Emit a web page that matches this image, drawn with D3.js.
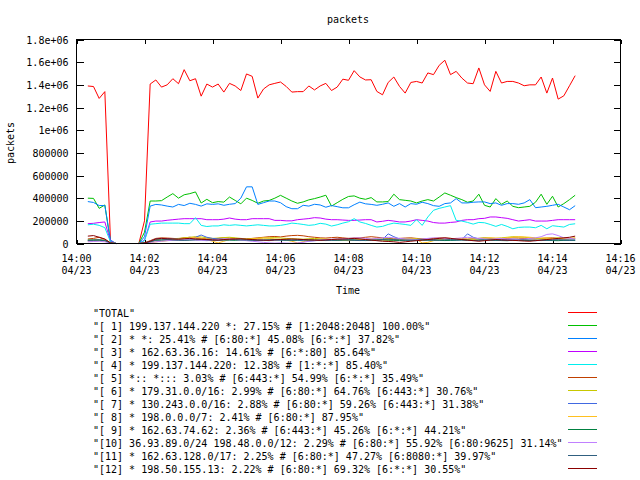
<!DOCTYPE html>
<html><head><meta charset="utf-8">
<script src="https://cdn.jsdelivr.net/npm/d3@7"></script>
<style>
body{margin:0;background:#fff}
svg{display:block}
text{font-family:"DejaVu Sans Mono","Liberation Mono",monospace;font-size:10px;fill:#000;white-space:pre}
</style>
</head><body>
<svg id="chart" width="640" height="480"></svg>
<script>
// ---- data (packets, in thousands) ----
const sampleStart = "2013-04-23T14:00:20Z";
const sampleStepSeconds = 10;
const yTickValues = [0, 200000, 400000, 600000, 800000, 1000000, 1200000, 1400000, 1600000, 1800000];
const yTickLabels = ["0","200000","400000","600000","800000","1e+06","1.2e+06","1.4e+06","1.6e+06","1.8e+06"];
const xTickMinutes = ["14:00","14:02","14:04","14:06","14:08","14:10","14:12","14:14","14:16"];
const xTickDate = "04/23";

const seriesLabels = [
  "\"TOTAL\"",
  "\"[ 1] 199.137.144.220 *: 27.15% # [1:2048:2048] 100.00%\"",
  "\"[ 2] * *: 25.41% # [6:80:*] 45.08% [6:*:*] 37.82%\"",
  "\"[ 3] * 162.63.36.16: 14.61% # [6:*:80] 85.64%\"",
  "\"[ 4] * 199.137.144.220: 12.38% # [1:*:*] 85.40%\"",
  "\"[ 5] *:: *::: 3.03% # [6:443:*] 54.99% [6:*:*] 35.49%\"",
  "\"[ 6] * 179.31.0.0/16: 2.99% # [6:80:*] 64.76% [6:443:*] 30.76%\"",
  "\"[ 7] * 130.243.0.0/16: 2.88% # [6:80:*] 59.26% [6:443:*] 31.38%\"",
  "\"[ 8] * 198.0.0.0/7: 2.41% # [6:80:*] 87.95%\"",
  "\"[ 9] * 162.63.74.62: 2.36% # [6:443:*] 45.26% [6:*:*] 44.21%\"",
  "\"[10] 36.93.89.0/24 198.48.0.0/12: 2.29% # [6:80:*] 55.92% [6:80:9625] 31.14%\"",
  "\"[11] * 162.63.128.0/17: 2.25% # [6:80:*] 47.27% [6:8080:*] 39.97%\"",
  "\"[12] * 198.50.155.13: 2.22% # [6:80:*] 69.32% [6:*:*] 30.55%\""
];
const seriesColors = ["#ff0000","#00c000","#0080ff","#c000ff","#00eeee","#c04000","#c8c800","#4169e1","#ffc020","#008040","#c080ff","#306080","#8b0000"];

const total = [
 1390,1385,1280,1340,20,0,0,0,0,0,
 200,1407,1443,1380,1400,1454,1410,1534,1436,1454,
 1300,1407,1380,1407,1336,1413,1390,1350,1496,1475,
 1283,1363,1400,1413,1425,1386,1336,1340,1340,1390,
 1355,1390,1413,1350,1380,1450,1440,1525,1470,1443,
 1445,1342,1312,1421,1469,1386,1327,1421,1430,1416,
 1505,1490,1572,1617,1490,1519,1460,1416,1410,1549,
 1400,1342,1519,1416,1430,1430,1416,1392,1400,1400,
 1469,1327,1460,1274,1303,1392,1481];
const s1 = [
 400,398,310,340,10,0,0,0,0,0,
 100,375,375,378,410,440,400,430,440,455,
 357,390,360,370,365,410,380,350,400,380,
 355,375,380,400,425,400,375,355,367,385,
 396,410,426,330,360,390,415,420,400,390,
 405,367,367,370,435,387,381,375,358,375,
 387,375,410,446,426,405,387,364,375,435,
 337,322,396,346,375,328,316,322,328,364,
 435,346,417,322,352,387,426];
const s2 = [
 370,362,335,335,30,0,0,0,0,0,
 60,330,345,340,330,322,345,335,355,345,
 330,350,345,350,337,346,352,400,500,500,
 345,360,375,375,360,325,307,307,337,330,
 346,340,320,335,325,315,315,342,365,350,
 345,337,346,358,328,352,322,352,346,364,
 352,334,328,352,358,396,358,358,364,367,
 367,352,358,337,352,352,346,358,387,316,
 322,328,337,346,322,298,334];
const s3 = [
 175,178,185,190,20,0,0,0,0,0,
 30,190,198,198,205,210,215,219,219,219,
 219,210,210,210,215,225,215,210,210,219,
 219,219,219,204,204,200,200,210,215,220,
 228,225,215,210,210,207,204,204,207,210,
 210,190,196,204,198,190,190,198,210,204,
 198,185,180,180,186,190,204,210,210,219,
 222,234,234,228,222,210,198,204,210,198,
 198,198,204,210,210,210,210];
const s4 = [
 165,170,160,140,15,0,0,0,0,0,
 25,170,175,180,180,180,180,175,175,228,
 160,150,155,155,165,160,165,160,155,160,
 165,160,155,155,160,168,180,175,168,160,
 165,178,171,154,165,180,192,219,190,177,
 160,145,151,168,180,174,168,160,210,160,
 234,293,310,322,334,204,198,186,171,186,
 183,168,151,168,151,130,142,145,145,139,
 160,130,157,151,145,168,174];
const s5 = [
 40,45,55,35,5,0,0,0,0,0,
 5,25,45,50,48,45,42,50,55,48,
 45,40,42,45,50,48,45,42,40,45,
 50,55,60,62,58,65,70,72,68,60,
 55,50,48,52,55,50,45,48,50,55,
 60,55,50,45,42,45,48,50,45,42,
 40,45,50,48,45,42,40,38,42,45,
 48,45,42,40,45,50,48,45,42,40,
 45,48,50,45,40,42,45];
const s6 = [
 30,32,35,28,5,0,0,0,0,0,
 5,20,35,40,38,42,45,50,55,60,
 58,50,45,48,52,55,50,45,40,42,
 45,48,50,52,48,45,42,40,38,42,
 45,40,38,35,40,42,45,40,38,35,
 38,40,42,40,38,35,40,45,42,38,
 35,38,40,42,45,40,38,35,40,45,
 50,48,45,50,55,60,58,55,50,45,
 42,40,45,50,48,45,48];
const s7 = [
 25,28,30,25,5,0,0,0,0,0,
 5,20,40,45,42,40,38,42,48,55,
 75,55,45,40,38,35,38,40,35,32,
 30,28,25,30,32,35,30,28,25,22,
 25,28,30,32,30,28,32,35,38,35,
 32,30,35,85,60,40,35,32,30,35,
 38,35,32,30,28,30,35,85,55,40,
 35,30,28,32,35,38,35,30,28,25,
 28,30,32,35,30,28,30];
const s8 = [
 20,22,25,20,3,0,0,0,0,0,
 3,10,15,20,25,30,35,45,50,55,
 45,35,20,5,20,35,40,38,35,40,
 45,50,45,40,35,30,20,5,15,30,
 35,40,38,35,30,28,25,30,35,38,
 40,35,30,28,25,30,35,40,38,5,
 10,25,35,40,42,45,40,38,35,40,
 45,50,48,45,50,55,60,58,55,50,
 48,50,45,40,42,45,48];
const s9 = [
 30,30,28,25,3,0,0,0,0,0,
 3,15,28,30,32,30,28,30,32,35,
 32,30,28,30,32,30,28,30,32,30,
 28,30,32,35,32,30,28,30,32,30,
 28,30,32,30,28,30,32,30,28,26,
 28,30,32,30,28,26,28,30,32,30,
 28,30,28,26,28,30,32,30,28,30,
 32,30,28,26,25,28,30,28,26,28,
 30,28,26,25,28,30,28];
const s10 = [
 15,18,20,15,3,0,0,0,0,0,
 3,10,15,20,25,28,30,32,35,30,
 28,25,30,35,40,38,35,30,25,20,
 15,10,5,3,5,3,2,5,10,20,
 25,30,35,38,40,42,45,48,50,45,
 40,45,50,55,50,45,40,38,35,40,
 45,50,48,45,40,45,50,55,50,45,
 40,38,42,45,40,38,35,40,45,50,
 60,80,85,70,50,45,40];
const s11 = [
 28,30,32,28,3,0,0,0,0,0,
 3,15,30,32,35,32,30,28,30,32,
 35,32,30,28,30,32,35,32,30,28,
 26,28,30,32,30,28,30,32,35,32,
 30,28,26,28,30,32,30,28,26,28,
 30,32,35,38,35,32,30,28,30,32,
 30,28,30,32,35,32,30,28,26,28,
 30,32,30,28,26,28,30,32,30,28,
 26,28,30,32,30,28,30];
const s12 = [
 65,70,55,40,5,0,0,0,0,0,
 5,20,40,45,42,40,38,42,45,40,
 38,35,32,30,35,38,40,42,38,35,
 32,30,28,32,35,38,40,38,35,32,
 30,28,32,35,38,40,42,45,40,35,
 30,25,20,18,15,10,15,20,25,30,
 35,40,45,50,45,40,35,30,25,20,
 25,30,35,32,30,28,25,22,20,25,
 30,35,40,45,50,55,65];
const seriesData = [total,s1,s2,s3,s4,s5,s6,s7,s8,s9,s10,s11,s12];
const unitPackets = 1000;

// ---- layout ----
const L = 76.5, R = 620.5, T = 39.5, B = 243.5;
const svg = d3.select("#chart");

const t0 = new Date(sampleStart).getTime();
const sampleTimes = d3.range(total.length).map(i => new Date(t0 + i * sampleStepSeconds * 1000));

const x = d3.scaleUtc()
  .domain([new Date("2013-04-23T14:00:00Z"), new Date("2013-04-23T14:16:00Z")])
  .range([L, R]);
const y = d3.scaleLinear().domain([0, 1800000]).range([B, T]);

// title
svg.append("text").attr("x", 348).attr("y", 23).attr("text-anchor", "middle").text("packets");
// y label
svg.append("text").attr("transform", "translate(14,143) rotate(-90)").attr("text-anchor", "middle").text("packets");
// x label
svg.append("text").attr("x", 348).attr("y", 294).attr("text-anchor", "middle").text("Time");

// axes
const xTicks = d3.range(xTickMinutes.length).map(i => new Date(Date.parse("2013-04-23T14:00:00Z") + i * 120000));
const yLeft = d3.axisLeft(y).tickValues(yTickValues).tickSize(-7).tickPadding(8)
  .tickFormat((d, i) => yTickLabels[i]);
const gl = svg.append("g").attr("transform", `translate(${L},0)`).call(yLeft);
const yRight = d3.axisRight(y).tickValues(yTickValues).tickSize(-7).tickFormat("");
svg.append("g").attr("transform", `translate(${R},0)`).call(yRight);
const xBottom = d3.axisBottom(x).tickValues(xTicks).tickSize(-4).tickPadding(10).tickFormat("");
const gb = svg.append("g").attr("transform", `translate(0,${B})`).call(xBottom);
const xTop = d3.axisTop(x).tickValues(xTicks).tickSize(-4).tickFormat("");
svg.append("g").attr("transform", `translate(0,${T})`).call(xTop);

svg.selectAll(".domain").remove();
svg.selectAll(".tick line").attr("stroke", "#000").attr("shape-rendering", "crispEdges");
gl.selectAll(".tick text").attr("font-size", null).attr("font-family", null).attr("fill", "#000").attr("dy", "0.35em");

xTicks.forEach((d, i) => {
  const t = svg.append("text").attr("x", x(d)).attr("y", 262).attr("text-anchor", "middle");
  t.append("tspan").attr("x", x(d)).attr("y", 262).text(xTickMinutes[i]);
  t.append("tspan").attr("x", x(d)).attr("y", 274).text(xTickDate);
});

// series lines
const line = d3.line()
  .x((d, i) => x(sampleTimes[i]))
  .y(d => y(d * unitPackets));
seriesData.forEach((arr, k) => {
  svg.append("path").datum(arr)
    .attr("fill", "none")
    .attr("stroke", seriesColors[k])
    .attr("stroke-width", 1)
    .attr("d", line);
});

// border
svg.append("rect").attr("x", L).attr("y", T).attr("width", R - L).attr("height", B - T)
  .attr("fill", "none").attr("stroke", "#000").attr("shape-rendering", "crispEdges");

// legend
seriesLabels.forEach((lab, k) => {
  const ly = 312.5 + 13 * k;
  svg.append("text").attr("x", 93).attr("y", ly + 4).text(lab);
  svg.append("line").attr("x1", 568).attr("x2", 597).attr("y1", ly).attr("y2", ly)
    .attr("stroke", seriesColors[k]).attr("shape-rendering", "crispEdges");
});
</script>
</body></html>
